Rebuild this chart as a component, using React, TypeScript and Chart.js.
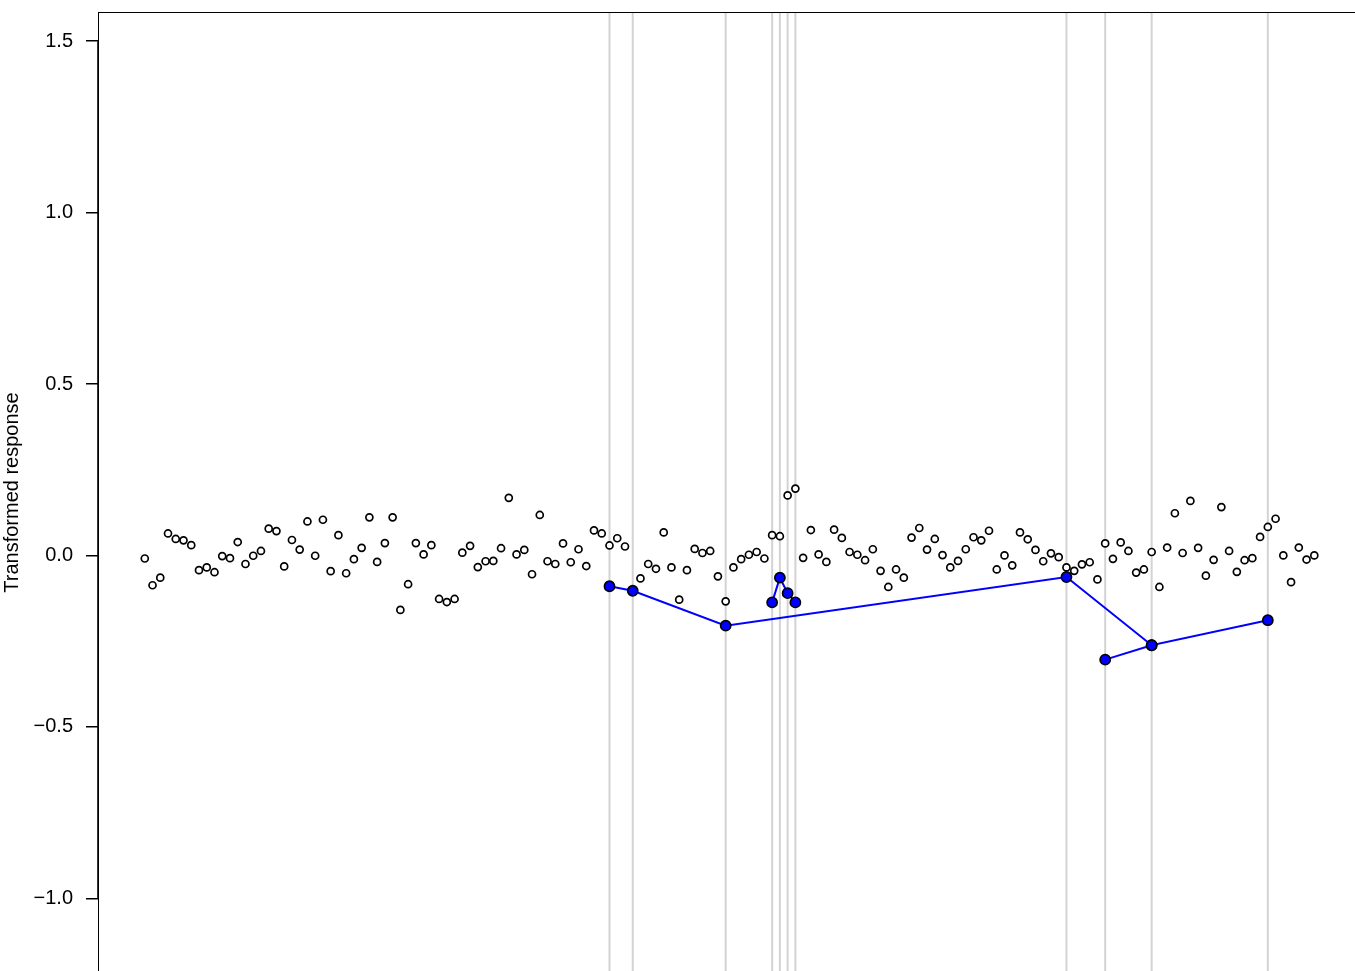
import { useEffect, useRef } from "react";
import { Chart, registerables } from "chart.js";

Chart.register(...registerables);

// Observations (x = observation index 1..152)
const responseValues = [
  -0.009, -0.087, -0.065, 0.064, 0.048, 0.044, 0.030, -0.043, -0.035, -0.049,
  -0.002, -0.008, 0.039, -0.025, -0.001, 0.013, 0.078, 0.071, -0.032, 0.045,
  0.017, 0.099, -0.001, 0.104, -0.046, 0.059, -0.052, -0.011, 0.022, 0.111,
  -0.019, 0.036, 0.111, -0.159, -0.084, 0.036, 0.003, 0.030, -0.127, -0.136,
  -0.127, 0.008, 0.028, -0.034, -0.017, -0.016, 0.021, 0.168, 0.003, 0.016,
  -0.055, 0.118, -0.017, -0.025, 0.035, -0.020, 0.018, -0.031, 0.073, 0.064,
  0.029, 0.050, 0.026, -0.103, -0.067, -0.025, -0.039, 0.067, -0.035, -0.129,
  -0.043, 0.019, 0.007, 0.013, -0.061, -0.134, -0.035, -0.011, 0.002, 0.010,
  -0.009, 0.059, 0.056, 0.175, 0.195, -0.007, 0.074, 0.003, -0.019, 0.075,
  0.051, 0.010, 0.002, -0.014, 0.018, -0.045, -0.092, -0.041, -0.065, 0.052,
  0.080, 0.017, 0.048, 0.001, -0.035, -0.016, 0.018, 0.053, 0.044, 0.072,
  -0.041, 0.000, -0.029, 0.067, 0.047, 0.016, -0.017, 0.006, -0.005, -0.035,
  -0.045, -0.026, -0.020, -0.070, 0.035, -0.010, 0.038, 0.013, -0.050, -0.041,
  0.010, -0.092, 0.023, 0.123, 0.007, 0.159, 0.022, -0.059, -0.013, 0.141,
  0.013, -0.048, -0.014, -0.008, 0.054, 0.083, 0.107, 0.000, -0.078, 0.023,
  -0.012, 0.000,
];

// Highlighted observations (vertical reference lines)
const highlightIdx = [61, 64, 76, 82, 83, 84, 85, 120, 125, 131, 146];

// Blue connected groups
const groupAIdx = [61, 64, 76, 120, 131, 146];
const groupAValues = [-0.090, -0.103, -0.205, -0.063, -0.262, -0.189];
const groupBIdx = [82, 83, 84, 85];
const groupBValues = [-0.137, -0.065, -0.110, -0.137];
const groupCIdx = [125, 131];
const groupCValues = [-0.304, -0.262];

const yTicks = [-1.0, -0.5, 0.0, 0.5, 1.0, 1.5];
const yTitle = "Transformed response";

const FONT = "'Liberation Sans', Arial, Helvetica, sans-serif";
const CW = 1362;
const CH = 975;

export default function App() {
  const ref = useRef<HTMLCanvasElement | null>(null);

  useEffect(() => {
    const canvas = ref.current;
    if (!canvas) return;

    const toPts = (xs: number[], ys: number[]) => xs.map((x, i) => ({ x, y: ys[i] }));
    const obsPts = responseValues.map((v, i) => ({ x: i + 1, y: v }));

    const framePlugin = {
      id: "frame",
      beforeDatasetsDraw(chart: any) {
        const { ctx, chartArea, scales } = chart;
        ctx.save();
        ctx.strokeStyle = "#d3d3d3";
        ctx.lineWidth = 2;
        highlightIdx.forEach((i) => {
          const px = scales.x.getPixelForValue(i);
          ctx.beginPath();
          ctx.moveTo(px, chartArea.top);
          ctx.lineTo(px, chartArea.bottom);
          ctx.stroke();
        });
        ctx.restore();
      },
      afterDraw(chart: any) {
        const { ctx, chartArea, scales } = chart;
        ctx.save();
        ctx.strokeStyle = "#000";
        ctx.lineWidth = 1.2;
        ctx.beginPath();
        ctx.moveTo(chartArea.left, chartArea.top + 0.5);
        ctx.lineTo(chartArea.right + 5, chartArea.top + 0.5);
        ctx.stroke();
        // axis segment between first and last tick
        ctx.lineWidth = 1.6;
        ctx.beginPath();
        ctx.moveTo(chartArea.left, scales.y.getPixelForValue(yTicks[yTicks.length - 1]));
        ctx.lineTo(chartArea.left, scales.y.getPixelForValue(yTicks[0]));
        ctx.stroke();
        ctx.restore();
      },
    };

    const blueStyle = {
      showLine: true,
      borderColor: "#0000ff",
      borderWidth: 2,
      pointRadius: 5.1,
      pointBackgroundColor: "#0000ff",
      pointBorderColor: "#000",
      pointBorderWidth: 1.6,
    };

    const chart = new Chart(canvas, {
      type: "scatter",
      data: {
        datasets: [
          { ...blueStyle, data: toPts(groupBIdx, groupBValues), order: 1 },
          { ...blueStyle, data: toPts(groupCIdx, groupCValues), order: 2 },
          { ...blueStyle, data: toPts(groupAIdx, groupAValues), order: 3 },
          {
            data: obsPts,
            showLine: false,
            pointRadius: 3.5,
            pointBorderWidth: 1.7,
            pointBorderColor: "#000",
            pointBackgroundColor: "#fff",
            order: 4,
          },
        ],
      },
      options: {
        animation: false,
        responsive: false,
        devicePixelRatio: 1,
        layout: { autoPadding: false, padding: { left: 0, top: 12, right: 2, bottom: 2 } },
        plugins: { legend: { display: false }, tooltip: { enabled: false } },
        scales: {
          x: { type: "linear", min: -5.04, max: 157.9, display: false },
          y: {
            type: "linear",
            min: -1.218,
            max: 1.585,
            afterBuildTicks: (s: any) => {
              s.ticks = yTicks.map((v) => ({ value: v }));
            },
            afterFit: (s: any) => {
              s.width = 98;
              s.paddingTop = 0;
              s.paddingBottom = 0;
            },
            ticks: {
              color: "#000",
              padding: 13,
              font: { family: FONT, size: 20 },
              callback: (v: any) => Number(v).toFixed(1).replace("-", "\u2212"),
            },
            grid: {
              drawOnChartArea: false,
              drawTicks: true,
              tickLength: 12,
              color: "#000",
              lineWidth: 1.5,
            },
            border: { display: true, color: "#000", width: 1 },
            title: {
              display: true,
              text: yTitle,
              color: "#000",
              padding: 0,
              font: { family: FONT, size: 20 },
            },
          },
        },
      },
      plugins: [framePlugin],
    });

    return () => chart.destroy();
  }, []);

  return (
    <div
      style={{
        position: "fixed",
        left: 0,
        top: 0,
        width: 1355,
        height: 971,
        overflow: "hidden",
        background: "#fff",
      }}
    >
      <canvas ref={ref} width={CW} height={CH} style={{ display: "block", width: CW, height: CH }} />
    </div>
  );
}
